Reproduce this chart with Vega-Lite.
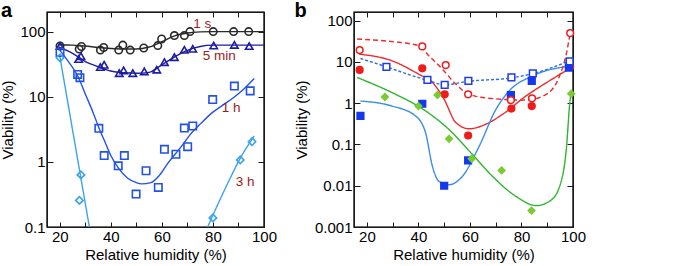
{
  "$schema": "https://vega.github.io/schema/vega-lite/v6.json",
  "background": "white",
  "padding": {"left": 0, "top": 0, "right": 0, "bottom": 0},
  "config": {
    "font": "Liberation Sans",
    "view": {"stroke": "#1a1a1a", "strokeWidth": 1.2},
    "axis": {"grid": false, "tickColor": "#1a1a1a", "tickWidth": 1, "domainColor": "#1a1a1a", "domainWidth": 1, "labelFontSize": 15, "titleFontSize": 15, "labelFlush": false, "labelOverlap": false}
  },
  "spacing": 15,
  "resolve": {
    "scale": {"color": "independent", "shape": "independent", "fill": "independent", "stroke": "independent", "strokeDash": "independent"},
    "legend": {"color": "independent", "shape": "independent", "fill": "independent", "stroke": "independent", "strokeDash": "independent"}
  },
  "datasets": {
    "a_pts": [
      {"series": "1 s", "rh": 20.1, "viability": 60}, {"series": "1 s", "rh": 27.6, "viability": 54}, {"series": "1 s", "rh": 28.5, "viability": 59}, {"series": "1 s", "rh": 35.9, "viability": 52}, {"series": "1 s", "rh": 37.2, "viability": 57}, {"series": "1 s", "rh": 43.1, "viability": 52}, {"series": "1 s", "rh": 44.7, "viability": 62}, {"series": "1 s", "rh": 47.6, "viability": 52}, {"series": "1 s", "rh": 52.9, "viability": 56}, {"series": "1 s", "rh": 58.4, "viability": 61}, {"series": "1 s", "rh": 59.9, "viability": 77}, {"series": "1 s", "rh": 64.9, "viability": 87}, {"series": "1 s", "rh": 68.8, "viability": 87}, {"series": "1 s", "rh": 71.0, "viability": 100}, {"series": "1 s", "rh": 80.1, "viability": 100}, {"series": "1 s", "rh": 88.1, "viability": 100}, {"series": "1 s", "rh": 94.0, "viability": 100},
      {"series": "5 min", "rh": 20.1, "viability": 60}, {"series": "5 min", "rh": 27.4, "viability": 38}, {"series": "5 min", "rh": 28.3, "viability": 42}, {"series": "5 min", "rh": 35.9, "viability": 28.5}, {"series": "5 min", "rh": 37.4, "viability": 31}, {"series": "5 min", "rh": 43.3, "viability": 23}, {"series": "5 min", "rh": 45.0, "viability": 25.4}, {"series": "5 min", "rh": 48.6, "viability": 23}, {"series": "5 min", "rh": 53.1, "viability": 24.5}, {"series": "5 min", "rh": 58.0, "viability": 26}, {"series": "5 min", "rh": 61.0, "viability": 34}, {"series": "5 min", "rh": 64.9, "viability": 40.5}, {"series": "5 min", "rh": 68.8, "viability": 52.5}, {"series": "5 min", "rh": 72.1, "viability": 54.5}, {"series": "5 min", "rh": 80.3, "viability": 61}, {"series": "5 min", "rh": 88.4, "viability": 62.5}, {"series": "5 min", "rh": 94.2, "viability": 60},
      {"series": "1 h", "rh": 20.1, "viability": 48}, {"series": "1 h", "rh": 27.0, "viability": 22}, {"series": "1 h", "rh": 27.9, "viability": 19.6}, {"series": "1 h", "rh": 35.3, "viability": 3.27}, {"series": "1 h", "rh": 37.4, "viability": 1.25}, {"series": "1 h", "rh": 42.9, "viability": 0.87}, {"series": "1 h", "rh": 45.3, "viability": 1.25}, {"series": "1 h", "rh": 49.9, "viability": 0.32}, {"series": "1 h", "rh": 53.8, "viability": 0.73}, {"series": "1 h", "rh": 58.6, "viability": 0.405}, {"series": "1 h", "rh": 61.0, "viability": 1.56}, {"series": "1 h", "rh": 65.5, "viability": 1.31}, {"series": "1 h", "rh": 68.8, "viability": 3.3}, {"series": "1 h", "rh": 70.1, "viability": 1.71}, {"series": "1 h", "rh": 72.1, "viability": 3.55}, {"series": "1 h", "rh": 79.9, "viability": 9.05}, {"series": "1 h", "rh": 88.4, "viability": 14.6}, {"series": "1 h", "rh": 94.6, "viability": 12.3},
      {"series": "3 h", "rh": 20.1, "viability": 39.6}, {"series": "3 h", "rh": 27.7, "viability": 0.256}, {"series": "3 h", "rh": 28.3, "viability": 0.63}, {"series": "3 h", "rh": 80.0, "viability": 0.138}, {"series": "3 h", "rh": 90.7, "viability": 1.07}, {"series": "3 h", "rh": 95.3, "viability": 2.04}
    ],
    "a_fit": [
      {"series": "1 s", "curve": "1 s", "rh": 19.5, "viability": 63}, {"series": "1 s", "curve": "1 s", "rh": 25, "viability": 62}, {"series": "1 s", "curve": "1 s", "rh": 30, "viability": 60}, {"series": "1 s", "curve": "1 s", "rh": 35, "viability": 57}, {"series": "1 s", "curve": "1 s", "rh": 40, "viability": 55}, {"series": "1 s", "curve": "1 s", "rh": 45, "viability": 54}, {"series": "1 s", "curve": "1 s", "rh": 50, "viability": 54}, {"series": "1 s", "curve": "1 s", "rh": 55, "viability": 58}, {"series": "1 s", "curve": "1 s", "rh": 60, "viability": 70}, {"series": "1 s", "curve": "1 s", "rh": 65, "viability": 86}, {"series": "1 s", "curve": "1 s", "rh": 70, "viability": 95}, {"series": "1 s", "curve": "1 s", "rh": 75, "viability": 99}, {"series": "1 s", "curve": "1 s", "rh": 80, "viability": 100}, {"series": "1 s", "curve": "1 s", "rh": 100, "viability": 100},
      {"series": "5 min", "curve": "5 min", "rh": 19.5, "viability": 58}, {"series": "5 min", "curve": "5 min", "rh": 25, "viability": 46.5}, {"series": "5 min", "curve": "5 min", "rh": 30, "viability": 34.6}, {"series": "5 min", "curve": "5 min", "rh": 35, "viability": 29}, {"series": "5 min", "curve": "5 min", "rh": 40, "viability": 24.8}, {"series": "5 min", "curve": "5 min", "rh": 45, "viability": 23.4}, {"series": "5 min", "curve": "5 min", "rh": 50, "viability": 23}, {"series": "5 min", "curve": "5 min", "rh": 55, "viability": 23.7}, {"series": "5 min", "curve": "5 min", "rh": 60, "viability": 31}, {"series": "5 min", "curve": "5 min", "rh": 65, "viability": 41}, {"series": "5 min", "curve": "5 min", "rh": 70, "viability": 51.6}, {"series": "5 min", "curve": "5 min", "rh": 75, "viability": 59}, {"series": "5 min", "curve": "5 min", "rh": 80, "viability": 62}, {"series": "5 min", "curve": "5 min", "rh": 100, "viability": 62},
      {"series": "1 h", "curve": "1 h", "rh": 20, "viability": 52}, {"series": "1 h", "curve": "1 h", "rh": 24, "viability": 32}, {"series": "1 h", "curve": "1 h", "rh": 27, "viability": 21}, {"series": "1 h", "curve": "1 h", "rh": 30, "viability": 11}, {"series": "1 h", "curve": "1 h", "rh": 33, "viability": 5.8}, {"series": "1 h", "curve": "1 h", "rh": 35, "viability": 3.6}, {"series": "1 h", "curve": "1 h", "rh": 38, "viability": 1.9}, {"series": "1 h", "curve": "1 h", "rh": 40, "viability": 1.25}, {"series": "1 h", "curve": "1 h", "rh": 43, "viability": 0.8}, {"series": "1 h", "curve": "1 h", "rh": 46.6, "viability": 0.56}, {"series": "1 h", "curve": "1 h", "rh": 50, "viability": 0.48}, {"series": "1 h", "curve": "1 h", "rh": 52, "viability": 0.46}, {"series": "1 h", "curve": "1 h", "rh": 55.7, "viability": 0.48}, {"series": "1 h", "curve": "1 h", "rh": 59, "viability": 0.62}, {"series": "1 h", "curve": "1 h", "rh": 62.3, "viability": 0.95}, {"series": "1 h", "curve": "1 h", "rh": 67.5, "viability": 1.7}, {"series": "1 h", "curve": "1 h", "rh": 71, "viability": 2.6}, {"series": "1 h", "curve": "1 h", "rh": 75.3, "viability": 3.9}, {"series": "1 h", "curve": "1 h", "rh": 80, "viability": 5.8}, {"series": "1 h", "curve": "1 h", "rh": 84, "viability": 7.5}, {"series": "1 h", "curve": "1 h", "rh": 88.4, "viability": 9.9}, {"series": "1 h", "curve": "1 h", "rh": 92, "viability": 13}, {"series": "1 h", "curve": "1 h", "rh": 96.2, "viability": 19},
      {"series": "3 h", "curve": "3 h low", "rh": 20, "viability": 42}, {"series": "3 h", "curve": "3 h low", "rh": 31.6, "viability": 0.1},
      {"series": "3 h", "curve": "3 h high", "rh": 77.9, "viability": 0.1}, {"series": "3 h", "curve": "3 h high", "rh": 85.8, "viability": 0.47}, {"series": "3 h", "curve": "3 h high", "rh": 91, "viability": 1.19}, {"series": "3 h", "curve": "3 h high", "rh": 96.2, "viability": 2.5}
    ],
    "a_lab": [
      {"series": "1 s", "rh": 75.8, "viability": 133}, {"series": "5 min", "rh": 82.5, "viability": 42}, {"series": "1 h", "rh": 87.1, "viability": 6.6}, {"series": "3 h", "rh": 92.6, "viability": 0.49}
    ],
    "b_pts": [
      {"medium": "DMEM", "rh": 17.2, "viability": 6.4}, {"medium": "DMEM", "rh": 41.5, "viability": 7.0}, {"medium": "DMEM", "rh": 50.2, "viability": 1.64}, {"medium": "DMEM", "rh": 59.3, "viability": 0.165}, {"medium": "DMEM", "rh": 76.1, "viability": 0.74}, {"medium": "DMEM", "rh": 84.0, "viability": 0.85}, {"medium": "DMEM", "rh": 98.9, "viability": 7.6},
      {"medium": "PBS", "rh": 17.5, "viability": 0.49}, {"medium": "PBS", "rh": 41.5, "viability": 0.97}, {"medium": "PBS", "rh": 50.0, "viability": 0.01}, {"medium": "PBS", "rh": 59.3, "viability": 0.041}, {"medium": "PBS", "rh": 75.9, "viability": 1.58}, {"medium": "PBS", "rh": 84.0, "viability": 3.46}, {"medium": "PBS", "rh": 98.4, "viability": 7.3},
      {"medium": "DMEM+FCS", "rh": 17.2, "viability": 19.4}, {"medium": "DMEM+FCS", "rh": 41.5, "viability": 23.8}, {"medium": "DMEM+FCS", "rh": 50.6, "viability": 8.4}, {"medium": "DMEM+FCS", "rh": 59.3, "viability": 1.64}, {"medium": "DMEM+FCS", "rh": 75.9, "viability": 1.19}, {"medium": "DMEM+FCS", "rh": 84.1, "viability": 1.31}, {"medium": "DMEM+FCS", "rh": 98.9, "viability": 50},
      {"medium": "PBS+FCS", "rh": 27.6, "viability": 7.6}, {"medium": "PBS+FCS", "rh": 43.5, "viability": 3.67}, {"medium": "PBS+FCS", "rh": 50.2, "viability": 2.77}, {"medium": "PBS+FCS", "rh": 59.4, "viability": 3.46}, {"medium": "PBS+FCS", "rh": 76.1, "viability": 4.2}, {"medium": "PBS+FCS", "rh": 84.4, "viability": 5.3}, {"medium": "PBS+FCS", "rh": 98.7, "viability": 10.3},
      {"medium": "mucus", "rh": 27.0, "viability": 1.41}, {"medium": "mucus", "rh": 40.0, "viability": 0.85}, {"medium": "mucus", "rh": 47.4, "viability": 1.58}, {"medium": "mucus", "rh": 51.9, "viability": 0.137}, {"medium": "mucus", "rh": 60.7, "viability": 0.045}, {"medium": "mucus", "rh": 72.3, "viability": 0.0235}, {"medium": "mucus", "rh": 83.9, "viability": 0.0025}, {"medium": "mucus", "rh": 99.3, "viability": 1.7}
    ],
    "b_fit": [
      {"medium": "DMEM", "rh": 17, "viability": 15.5}, {"medium": "DMEM", "rh": 29.8, "viability": 10.6}, {"medium": "DMEM", "rh": 40.2, "viability": 5.0}, {"medium": "DMEM", "rh": 45.4, "viability": 3.2}, {"medium": "DMEM", "rh": 50, "viability": 1.24}, {"medium": "DMEM", "rh": 54.5, "viability": 0.34}, {"medium": "DMEM", "rh": 59.7, "viability": 0.24}, {"medium": "DMEM", "rh": 66.2, "viability": 0.31}, {"medium": "DMEM", "rh": 72.7, "viability": 0.54}, {"medium": "DMEM", "rh": 81.8, "viability": 1.5}, {"medium": "DMEM", "rh": 90.9, "viability": 3.5}, {"medium": "DMEM", "rh": 99.3, "viability": 7.3},
      {"medium": "PBS", "rh": 17.5, "viability": 1.13}, {"medium": "PBS", "rh": 29.8, "viability": 0.85}, {"medium": "PBS", "rh": 38.9, "viability": 0.49}, {"medium": "PBS", "rh": 42.8, "viability": 0.19}, {"medium": "PBS", "rh": 45.4, "viability": 0.03}, {"medium": "PBS", "rh": 48, "viability": 0.0127}, {"medium": "PBS", "rh": 51.9, "viability": 0.0106}, {"medium": "PBS", "rh": 57.1, "viability": 0.017}, {"medium": "PBS", "rh": 63.6, "viability": 0.091}, {"medium": "PBS", "rh": 70.1, "viability": 0.71}, {"medium": "PBS", "rh": 75.3, "viability": 2.0}, {"medium": "PBS", "rh": 84.4, "viability": 4.6}, {"medium": "PBS", "rh": 99.3, "viability": 8.0},
      {"medium": "DMEM+FCS", "rh": 16.2, "viability": 35.8}, {"medium": "DMEM+FCS", "rh": 29.8, "viability": 31}, {"medium": "DMEM+FCS", "rh": 40.2, "viability": 24.6}, {"medium": "DMEM+FCS", "rh": 44.1, "viability": 14}, {"medium": "DMEM+FCS", "rh": 49.3, "viability": 6.7}, {"medium": "DMEM+FCS", "rh": 54.5, "viability": 2.9}, {"medium": "DMEM+FCS", "rh": 59.7, "viability": 1.64}, {"medium": "DMEM+FCS", "rh": 68.8, "viability": 1.29}, {"medium": "DMEM+FCS", "rh": 81.8, "viability": 1.19}, {"medium": "DMEM+FCS", "rh": 89.6, "viability": 1.64}, {"medium": "DMEM+FCS", "rh": 94.8, "viability": 4.6}, {"medium": "DMEM+FCS", "rh": 97.4, "viability": 15.5}, {"medium": "DMEM+FCS", "rh": 98.9, "viability": 50},
      {"medium": "PBS+FCS", "rh": 17.5, "viability": 12.1}, {"medium": "PBS+FCS", "rh": 27.6, "viability": 7.6}, {"medium": "PBS+FCS", "rh": 36, "viability": 5.0}, {"medium": "PBS+FCS", "rh": 43.5, "viability": 3.6}, {"medium": "PBS+FCS", "rh": 50, "viability": 2.8}, {"medium": "PBS+FCS", "rh": 59.4, "viability": 3.4}, {"medium": "PBS+FCS", "rh": 76, "viability": 4.1}, {"medium": "PBS+FCS", "rh": 84.4, "viability": 5.2}, {"medium": "PBS+FCS", "rh": 99.3, "viability": 11},
      {"medium": "mucus", "rh": 16.2, "viability": 4.2}, {"medium": "mucus", "rh": 29.8, "viability": 1.8}, {"medium": "mucus", "rh": 42.8, "viability": 0.65}, {"medium": "mucus", "rh": 51.9, "viability": 0.23}, {"medium": "mucus", "rh": 61, "viability": 0.057}, {"medium": "mucus", "rh": 68.8, "viability": 0.0168}, {"medium": "mucus", "rh": 77.9, "viability": 0.0055}, {"medium": "mucus", "rh": 85.7, "viability": 0.0033}, {"medium": "mucus", "rh": 90.9, "viability": 0.0042}, {"medium": "mucus", "rh": 94.8, "viability": 0.0096}, {"medium": "mucus", "rh": 97.4, "viability": 0.076}, {"medium": "mucus", "rh": 98.9, "viability": 1.24}, {"medium": "mucus", "rh": 99.3, "viability": 1.8}
    ]
  },
  "hconcat": [
    {
      "width": 217,
      "height": 215,
      "title": {"text": "a", "anchor": "start", "frame": "bounds", "fontSize": 20, "fontWeight": "bold", "offset": -5, "dy": 21, "baseline": "alphabetic"},
      "resolve": {"axis": {"x": "independent", "y": "independent"}},
      "layer": [
        {
          "data": {"values": [{}]},
          "mark": {"type": "rect", "fill": null, "stroke": "#1a1a1a", "strokeWidth": 1.2},
          "encoding": {
            "x": {"datum": 15, "type": "quantitative", "scale": {"domain": [15, 100], "nice": false}, "axis": null},
            "x2": {"datum": 100},
            "y": {"datum": 0.1, "type": "quantitative", "scale": {"type": "log", "domain": [0.1, 200], "nice": false}, "axis": null},
            "y2": {"datum": 200}
          }
        },
        {
          "data": {"name": "a_fit"},
          "mark": {"type": "line", "interpolate": "monotone", "strokeWidth": 1.4},
          "encoding": {
            "x": {"field": "rh", "type": "quantitative", "scale": {"domain": [15, 100], "nice": false}, "axis": {"orient": "top", "values": [20, 30, 40, 50, 60, 70, 80, 90, 100], "labels": false, "title": null, "tickSize": -5}},
            "y": {"field": "viability", "type": "quantitative", "scale": {"type": "log", "domain": [0.1, 200], "nice": false}, "axis": {"orient": "right", "values": [0.1, 1, 10, 100], "labels": false, "title": null, "tickSize": -6}},
            "color": {"field": "series", "type": "nominal", "scale": {"domain": ["1 s", "5 min", "1 h", "3 h"], "range": ["#2a2a2a", "#1c1ca2", "#2352e6", "#3aa2ee"]}, "legend": null},
            "detail": {"field": "curve"}
          }
        },
        {
          "data": {"name": "a_pts"},
          "mark": {"type": "point", "filled": false, "strokeWidth": 1.6, "size": 55, "opacity": 1},
          "encoding": {
            "x": {"field": "rh", "type": "quantitative", "scale": {"domain": [15, 100], "nice": false}, "axis": {"orient": "bottom", "values": [20, 30, 40, 50, 60, 70, 80, 90, 100], "labelExpr": "datum.value % 20 == 0 ? datum.label : ''", "title": "Relative humidity (%)", "titleFontWeight": "normal", "tickSize": -5, "labelPadding": 7, "titlePadding": 3}},
            "y": {"field": "viability", "type": "quantitative", "scale": {"type": "log", "domain": [0.1, 200], "nice": false}, "axis": {"orient": "left", "values": [0.1, 1, 10, 100], "format": "~g", "title": "Viability (%)", "titleFontWeight": "normal", "tickSize": -6, "labelPadding": 8, "titlePadding": 4}},
            "color": {"field": "series", "type": "nominal", "legend": null},
            "shape": {"field": "series", "type": "nominal", "scale": {"domain": ["1 s", "5 min", "1 h", "3 h"], "range": ["circle", "triangle-up", "square", "diamond"]}, "legend": null}
          }
        },
        {
          "data": {"name": "a_lab"},
          "mark": {"type": "text", "fontSize": 13.5, "color": "#9c1c1c", "align": "center", "baseline": "middle"},
          "encoding": {
            "x": {"field": "rh", "type": "quantitative", "scale": {"domain": [15, 100], "nice": false}, "axis": null},
            "y": {"field": "viability", "type": "quantitative", "scale": {"type": "log", "domain": [0.1, 200], "nice": false}, "axis": null},
            "text": {"field": "series"}
          }
        }
      ]
    },
    {
      "width": 219,
      "height": 215,
      "title": {"text": "b", "anchor": "start", "frame": "bounds", "fontSize": 20, "fontWeight": "bold", "offset": -5, "dy": 21, "baseline": "alphabetic"},
      "resolve": {"axis": {"x": "independent", "y": "independent"}},
      "layer": [
        {
          "data": {"values": [{}]},
          "mark": {"type": "rect", "fill": null, "stroke": "#1a1a1a", "strokeWidth": 1.2},
          "encoding": {
            "x": {"datum": 15, "type": "quantitative", "scale": {"domain": [15, 100], "nice": false}, "axis": null},
            "x2": {"datum": 100},
            "y": {"datum": 0.001, "type": "quantitative", "scale": {"type": "log", "domain": [0.001, 162], "nice": false}, "axis": null},
            "y2": {"datum": 162}
          }
        },
        {
          "data": {"name": "b_fit"},
          "mark": {"type": "line", "interpolate": "monotone", "strokeWidth": 1.4},
          "encoding": {
            "x": {"field": "rh", "type": "quantitative", "scale": {"domain": [15, 100], "nice": false}, "axis": {"orient": "top", "values": [20, 30, 40, 50, 60, 70, 80, 90, 100], "labels": false, "title": null, "tickSize": -5}},
            "y": {"field": "viability", "type": "quantitative", "scale": {"type": "log", "domain": [0.001, 162], "nice": false}, "axis": {"orient": "right", "values": [0.001, 0.01, 0.1, 1, 10, 100], "labels": false, "title": null, "tickSize": -6}},
            "color": {"field": "medium", "type": "nominal", "scale": {"domain": ["DMEM", "PBS", "DMEM+FCS", "PBS+FCS", "mucus"], "range": ["#ee2a2a", "#3a8ee8", "#ee2a2a", "#2f6ee8", "#2fb52f"]}, "legend": null},
            "strokeDash": {"field": "medium", "type": "nominal", "scale": {"domain": ["DMEM", "PBS", "DMEM+FCS", "PBS+FCS", "mucus"], "range": [[1, 0], [1, 0], [5, 3], [3, 2], [1, 0]]}, "legend": null}
          }
        },
        {
          "data": {"name": "b_pts"},
          "mark": {"type": "point", "filled": true, "strokeWidth": 1.5, "size": 45, "opacity": 1},
          "encoding": {
            "x": {"field": "rh", "type": "quantitative", "scale": {"domain": [15, 100], "nice": false}, "axis": {"orient": "bottom", "values": [20, 30, 40, 50, 60, 70, 80, 90, 100], "labelExpr": "datum.value % 20 == 0 ? datum.label : ''", "title": "Relative humidity (%)", "titleFontWeight": "normal", "tickSize": -5, "labelPadding": 7, "titlePadding": 3}},
            "y": {"field": "viability", "type": "quantitative", "scale": {"type": "log", "domain": [0.001, 162], "nice": false}, "axis": {"orient": "left", "values": [0.001, 0.01, 0.1, 1, 10, 100], "format": "~g", "title": "Viability (%)", "titleFontWeight": "normal", "tickSize": -6, "labelPadding": 8, "titlePadding": 5}},
            "fill": {"field": "medium", "type": "nominal", "scale": {"domain": ["DMEM", "PBS", "DMEM+FCS", "PBS+FCS", "mucus"], "range": ["#ee1c1c", "#1438ee", "#ffffff", "#ffffff", "#78cc30"]}, "legend": {"title": null, "orient": "none", "legendX": 233, "legendY": 12, "strokeColor": "black", "fillColor": "white", "padding": 3, "labelOffset": 10, "labelFontSize": 13, "symbolSize": 45}},
            "stroke": {"field": "medium", "type": "nominal", "scale": {"domain": ["DMEM", "PBS", "DMEM+FCS", "PBS+FCS", "mucus"], "range": ["#ee1c1c", "#1438ee", "#ee1c1c", "#1c3cee", "#78cc30"]}},
            "shape": {"field": "medium", "type": "nominal", "scale": {"domain": ["DMEM", "PBS", "DMEM+FCS", "PBS+FCS", "mucus"], "range": ["circle", "square", "circle", "square", "diamond"]}}
          }
        }
      ]
    }
  ]
}
